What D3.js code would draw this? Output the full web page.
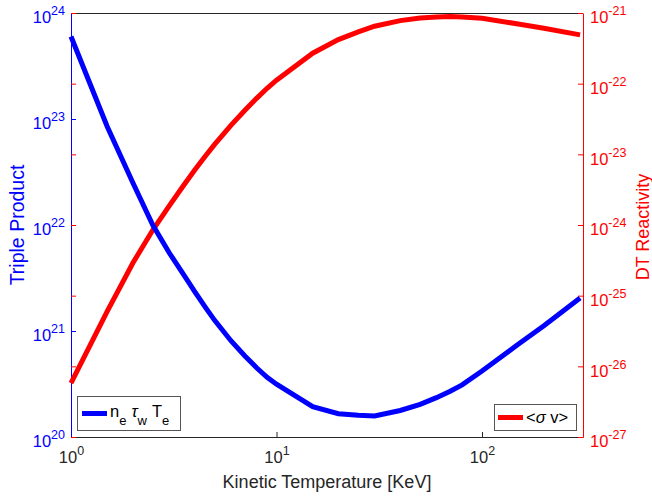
<!DOCTYPE html>
<html lang="en">
	<head>
		<meta charset="utf-8">
		<title>Triple product and DT reactivity</title>
		<script type="text/javascript" src="https://cdn.jsdelivr.net/npm/d3@7"></script>
		<style type="text/css">
			body {
				margin: 0;
				background: white;
				}
			text {
				font-family: "Liberation Sans", Arial, Helvetica, sans-serif;
				}
		</style>
	</head>
	<body>
		<script type="text/javascript">

			// kinetic temperature [keV]
			var temps = [1, 1.5, 2, 2.5, 3, 3.5, 4, 4.5, 5, 6, 7, 8, 9, 10, 15, 20, 25, 30, 40, 50, 60, 70, 80, 100, 150, 200, 300];

			// n_e tau_w T_e (left axis)
			var tripleProduct = [6.0e23, 8.5e22, 2.5e22, 1.0e22, 5.5e21, 3.5e21, 2.35e21, 1.68e21, 1.26e21, 8.1e20, 5.85e20,
				4.5e20, 3.65e20, 3.15e20, 1.93e20, 1.66e20, 1.6e20, 1.58e20, 1.78e20, 2.03e20, 2.35e20, 2.7e20, 3.1e20,
				4.2e20, 7.5e20, 1.12e21, 2.05e21];

			// <sigma v> DT (right axis)
			var reactivity = [5.8e-27, 6.0e-26, 2.9e-25, 8.5e-25, 1.85e-24, 3.5e-24, 6.0e-24, 9.4e-24, 1.38e-23, 2.57e-23, 4.18e-23,
				6.2e-23, 8.6e-23, 1.12e-22, 2.7e-22, 4.2e-22, 5.4e-22, 6.5e-22, 7.8e-22, 8.5e-22, 8.8e-22, 8.9e-22, 8.8e-22,
				8.4e-22, 7.0e-22, 6.1e-22, 4.9e-22];

			// tick values
			var xTicks = [1, 10, 100];
			var leftTicks = [1e20, 1e21, 1e22, 1e23, 1e24];
			var rightTicks = [1e-27, 1e-26, 1e-25, 1e-24, 1e-23, 1e-22, 1e-21];

			var W = 652, H = 496;
			var mLeft = 71, mTop = 13, w = 512, h = 424;
			var dark = "#262626";

			var svg = d3.select("body").append("svg")
				.attr("width", W)
				.attr("height", H);

			var xScale = d3.scaleLog().domain([1, 310]).range([0, w]);
			var yLeft = d3.scaleLog().domain([1e20, 1e24]).range([h, 0]);
			var yRight = d3.scaleLog().domain([1e-27, 1e-21]).range([h, 0]);

			var g = svg.append("g").attr("transform", "translate(" + mLeft + "," + mTop + ")");

			// write "10^n" with a superscript
			function powerLabel(sel) {
				sel.each(function(d) {
					var t = d3.select(this);
					var e = Math.round(Math.log10(d));
					t.text(null);
					t.append("tspan").text("10");
					t.append("tspan").attr("dy", -8).attr("font-size", 12.5).text(e);
				});
			}

			// top box line
			g.append("line")
				.attr("x1", 0).attr("x2", w)
				.attr("y1", 0.5).attr("y2", 0.5)
				.attr("stroke", dark);

			// x axis
			var xAxis = g.append("g")
				.attr("transform", "translate(0," + h + ")")
				.call(d3.axisBottom(xScale).tickValues(xTicks).tickSizeInner(-5).tickSizeOuter(0).tickFormat(""));
			xAxis.select(".domain").attr("stroke", dark);
			xAxis.selectAll(".tick line").attr("stroke", dark);
			xAxis.selectAll(".tick text")
				.attr("y", 26).attr("dy", 0)
				.attr("fill", dark)
				.attr("font-size", 16.5)
				.call(powerLabel);

			// left axis
			var yAxisL = g.append("g")
				.call(d3.axisLeft(yLeft).tickValues(leftTicks).tickSizeInner(-5).tickSizeOuter(0).tickPadding(6).tickFormat(""));
			yAxisL.select(".domain").attr("stroke", "#0000ff");
			yAxisL.selectAll(".tick line").attr("stroke", "#0000ff");
			yAxisL.selectAll(".tick text")
				.attr("dy", "0.6em")
				.attr("fill", "#0000ff")
				.attr("font-size", 16.5)
				.call(powerLabel);

			// red ticks mirrored on the left side
			var mirror = g.append("g")
				.call(d3.axisRight(yRight).tickValues(rightTicks).tickSizeInner(5).tickSizeOuter(0).tickFormat(""));
			mirror.select(".domain").remove();
			mirror.selectAll(".tick line").attr("stroke", "#ff0000");

			// right axis
			var yAxisR = g.append("g")
				.attr("transform", "translate(" + w + ",0)")
				.call(d3.axisRight(yRight).tickValues(rightTicks).tickSizeInner(-5).tickSizeOuter(0).tickPadding(7).tickFormat(""));
			yAxisR.select(".domain").attr("stroke", "#ff0000");
			yAxisR.selectAll(".tick line").attr("stroke", "#ff0000");
			yAxisR.selectAll(".tick text")
				.attr("dy", "0.6em")
				.attr("fill", "#ff0000")
				.attr("font-size", 16.5)
				.call(powerLabel);

			// curves
			var lineL = d3.line()
				.x(function(d, i) { return xScale(temps[i]); })
				.y(function(d) { return yLeft(d); });
			var lineR = d3.line()
				.x(function(d, i) { return xScale(temps[i]); })
				.y(function(d) { return yRight(d); });

			g.append("path")
				.attr("d", lineR(reactivity))
				.attr("fill", "none")
				.attr("stroke", "#ff0000")
				.attr("stroke-width", 5);

			g.append("path")
				.attr("d", lineL(tripleProduct))
				.attr("fill", "none")
				.attr("stroke", "#0000ff")
				.attr("stroke-width", 5);

			// axis titles
			svg.append("text")
				.attr("x", mLeft + w / 2).attr("y", 488)
				.attr("text-anchor", "middle")
				.attr("font-size", 18)
				.attr("fill", dark)
				.text("Kinetic Temperature [KeV]");

			svg.append("text")
				.attr("transform", "translate(24," + (mTop + h / 2) + ") rotate(-90)")
				.attr("text-anchor", "middle")
				.attr("font-size", 19.5)
				.attr("fill", "#0000ff")
				.text("Triple Product");

			svg.append("text")
				.attr("transform", "translate(649,227) rotate(-90)")
				.attr("text-anchor", "middle")
				.attr("font-size", 18)
				.attr("fill", "#ff0000")
				.text("DT Reactivity");

			// legends
			var legL = svg.append("g");
			legL.append("rect")
				.attr("x", 77.5).attr("y", 396.5)
				.attr("width", 103).attr("height", 34)
				.attr("fill", "white").attr("stroke", "#555");
			legL.append("line")
				.attr("x1", 82).attr("x2", 107)
				.attr("y1", 413.5).attr("y2", 413.5)
				.attr("stroke", "#0000ff").attr("stroke-width", 5);
			var lt = legL.append("text")
				.attr("x", 110).attr("y", 417)
				.attr("font-size", 16.5)
				.attr("fill", "black");
			lt.append("tspan").text("n");
			lt.append("tspan").attr("dy", 8).attr("font-size", 13).text("e");
			lt.append("tspan").attr("dy", -8).attr("dx", 5).attr("font-style", "italic").text("τ");
			lt.append("tspan").attr("dy", 8).attr("font-size", 13).text("w");
			lt.append("tspan").attr("dy", -8).attr("dx", 5).text("T");
			lt.append("tspan").attr("dy", 8).attr("font-size", 13).text("e");

			var legR = svg.append("g");
			legR.append("rect")
				.attr("x", 494.5).attr("y", 404.5)
				.attr("width", 82).attr("height", 26)
				.attr("fill", "white").attr("stroke", "#555");
			legR.append("line")
				.attr("x1", 498).attr("x2", 523)
				.attr("y1", 417.5).attr("y2", 417.5)
				.attr("stroke", "#ff0000").attr("stroke-width", 5);
			var rt = legR.append("text")
				.attr("x", 526).attr("y", 423)
				.attr("font-size", 16.5)
				.attr("fill", "black");
			rt.append("tspan").text("<");
			rt.append("tspan").attr("font-style", "italic").text("σ");
			rt.append("tspan").text(" v>");

		</script>
	</body>
</html>
